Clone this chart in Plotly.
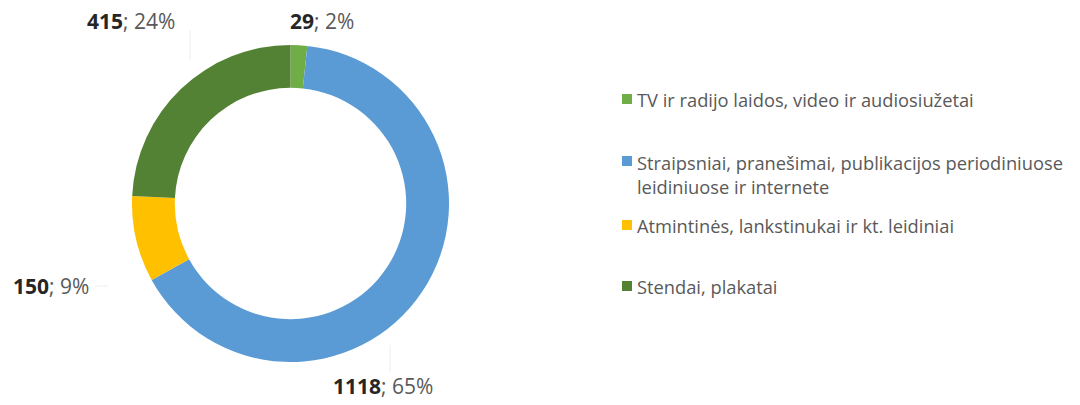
import plotly.graph_objects as go

categories = [
    "TV ir radijo laidos, video ir audiosiužetai",
    "Straipsniai, pranešimai, publikacijos periodiniuose<br>leidiniuose ir internete",
    "Atmintinės, lankstinukai ir kt. leidiniai",
    "Stendai, plakatai",
]
values = [29, 1118, 150, 415]
colors = ["#6fad47", "#5b9bd5", "#ffc000", "#548235"]

W, H = 1080, 405


def fx(x):
    return x / W


def fy(y):
    return 1 - y / H


total = sum(values)
pcts = [round(v / total * 100) for v in values]

fig = go.Figure()
fig.add_trace(go.Pie(
    labels=categories, values=values, sort=False, direction="clockwise",
    rotation=0, hole=0.73, textinfo="none", hoverinfo="label+value+percent",
    marker=dict(colors=colors, line=dict(width=0)),
    domain=dict(x=[fx(131), fx(450)], y=[fy(362), fy(45)]),
    showlegend=False,
))

FONT = "Open Sans"
# data labels (window pixel centres)
label_pos = [(322, 21), (383, 386), (51, 286), (131, 21)]
annotations = []
for (px, py), v, p in zip(label_pos, values, pcts):
    annotations.append(dict(
        x=fx(px), y=fy(py), xref="paper", yref="paper",
        text=f"<b><span style='color:#262626'>{v}</span></b>; {p}%",
        showarrow=False, xanchor="center", yanchor="middle",
        font=dict(family=FONT, size=21, color="#595959"),
    ))

# legend built from categories
legend_y = [99, 175, 225, 286]
shapes = []
for name, ly in zip(categories, legend_y):
    annotations.append(dict(
        x=fx(635), y=fy(ly), xref="paper", yref="paper",
        text=name, showarrow=False, xanchor="left", yanchor="middle",
        align="left", font=dict(family=FONT, size=18.3, color="#595959"),
    ))
for c, ly in zip(colors, [99, 161, 225, 286]):
    shapes.append(dict(
        type="rect", xref="paper", yref="paper",
        x0=fx(622), x1=fx(632), y0=fy(ly + 5), y1=fy(ly - 5),
        fillcolor=c, line=dict(width=0),
    ))

# faint leader lines
for (x0, y0, x1, y1) in [(190, 30, 190, 60), (95, 286, 108, 286), (390, 345, 390, 372)]:
    shapes.append(dict(type="line", xref="paper", yref="paper",
                       x0=fx(x0), x1=fx(x1), y0=fy(y0), y1=fy(y1),
                       line=dict(color="#eeeeee", width=1)))

fig.update_layout(
    width=W, height=H, margin=dict(l=0, r=0, t=0, b=0),
    paper_bgcolor="white", plot_bgcolor="white",
    annotations=annotations, shapes=shapes,
)
fig.write_html("out.html", config={"displayModeBar": False},
               post_script="document.body.style.margin='0';")
